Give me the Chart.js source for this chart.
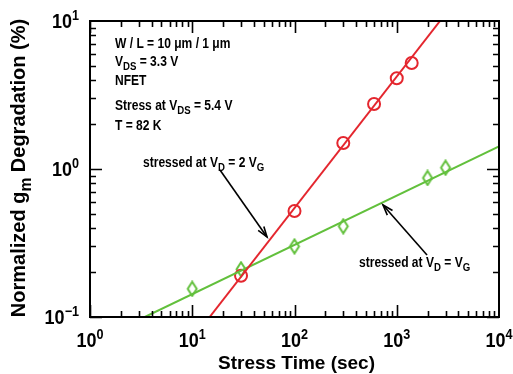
<!DOCTYPE html>
<html>
<head>
<meta charset="utf-8">
<script src="https://cdn.jsdelivr.net/npm/chart.js@4/dist/chart.umd.min.js"></script>
<style>
html,body{margin:0;padding:0;background:#fff;}
canvas{display:block;}
</style>
</head>
<body>
<canvas id="c" width="513" height="374"></canvas>
<script>
// ---- data ----
const redTimes   = [30, 100, 300, 600, 1000, 1400];
const redValues  = [0.19, 0.52, 1.5, 2.75, 4.1, 5.2];
const greenTimes  = [10, 30, 100, 300, 2000, 3000];
const greenValues = [0.155, 0.21, 0.30, 0.41, 0.87, 1.02];
// fitted lines (end points where they leave the frame)
const redFitTimes   = [14.8, 2650];
const redFitValues  = [0.1, 10];
const greenFitTimes  = [3.44, 10000];
const greenFitValues = [0.1, 1.42];
// axes
const xMajorTicks = [1, 10, 100, 1000, 10000];
const xTickExps   = ['0', '1', '2', '3', '4'];
const yMajorTicks = [0.1, 1, 10];
const yTickExps   = ['\u22121', '0', '1'];

const RED = '#e4262e';
const GREEN = '#62c03c';

const pts = (xs, ys) => xs.map((v, i) => ({x: v, y: ys[i]}));

// tall diamond marker
function diamond() {
  const c = document.createElement('canvas');
  c.width = 14; c.height = 17;
  const g = c.getContext('2d');
  g.strokeStyle = GREEN; g.lineWidth = 2;
  g.beginPath();
  g.moveTo(7, 1.5); g.lineTo(11.5, 8.5); g.lineTo(7, 15.5); g.lineTo(2.5, 8.5); g.closePath();
  g.stroke();
  return c;
}

const FONT = '"Liberation Sans", Arial, Helvetica, sans-serif';
function rich(ctx, runs, x, y, size, sx, draw, subRatio) {
  const sr = subRatio || 0.7;
  ctx.save();
  ctx.translate(x, y);
  ctx.scale(sx, 1);
  ctx.textBaseline = 'alphabetic';
  ctx.textAlign = 'left';
  let cx = 0;
  for (const [t, kind] of runs) {
    const fs = kind ? size * sr : size;
    ctx.font = `bold ${fs}px ${FONT}`;
    const dy = kind === 'sub' ? size * 0.3 : (kind === 'sup' ? -size * 0.42 : 0);
    if (draw !== false) ctx.fillText(t, cx, dy);
    cx += ctx.measureText(t).width;
  }
  ctx.restore();
  return cx * sx;
}

function arrow(ctx, x0, y0, x1, y1) {
  ctx.save();
  ctx.strokeStyle = '#000'; ctx.lineWidth = 1.6;
  ctx.beginPath(); ctx.moveTo(x0, y0); ctx.lineTo(x1, y1); ctx.stroke();
  const ang = Math.atan2(y1 - y0, x1 - x0);
  const L = 11, a = 0.32;
  ctx.beginPath();
  ctx.moveTo(x1 - L * Math.cos(ang - a), y1 - L * Math.sin(ang - a));
  ctx.lineTo(x1, y1);
  ctx.lineTo(x1 - L * Math.cos(ang + a), y1 - L * Math.sin(ang + a));
  ctx.stroke();
  ctx.restore();
}

const decor = {
  id: 'decor',
  beforeDraw(chart) {
    const ctx = chart.ctx;
    ctx.save(); ctx.fillStyle = '#fff'; ctx.fillRect(0, 0, chart.width, chart.height); ctx.restore();
  },
  afterDatasetsDraw(chart) {
    const {ctx, chartArea: a, scales: {x, y}} = chart;
    ctx.save();
    ctx.strokeStyle = '#000';
    ctx.lineWidth = 2;
    ctx.strokeRect(a.left, a.top, a.right - a.left, a.bottom - a.top);
    // inward ticks
    ctx.lineWidth = 1.6;
    ctx.beginPath();
    for (let d = 0; d < xMajorTicks.length - 1; d++) {
      for (let m = 1; m <= 9; m++) {
        const px = Math.round(x.getPixelForValue(xMajorTicks[d] * m)) + 0.5;
        const len = m === 1 ? 12 : 6;
        ctx.moveTo(px, a.bottom); ctx.lineTo(px, a.bottom - len);
        ctx.moveTo(px, a.top); ctx.lineTo(px, a.top + len);
      }
    }
    for (let d = 0; d < yMajorTicks.length - 1; d++) {
      for (let m = 1; m <= 9; m++) {
        const py = Math.round(y.getPixelForValue(yMajorTicks[d] * m)) + 0.5;
        const len = m === 1 ? 12 : 6;
        ctx.moveTo(a.left, py); ctx.lineTo(a.left + len, py);
        ctx.moveTo(a.right, py); ctx.lineTo(a.right - len, py);
      }
    }
    ctx.stroke();
    ctx.fillStyle = '#000';
    // x tick labels
    xMajorTicks.forEach((v, i) => {
      const runs = [['10', null], [xTickExps[i], 'sup']];
      const w = rich(ctx, runs, 0, 0, 20, 0.9, false);
      const px = x.getPixelForValue(v);
      rich(ctx, runs, px - w / 2, 347, 20, 0.9);
    });
    // y tick labels
    yMajorTicks.forEach((v, i) => {
      const runs = [['10', null], [yTickExps[i], 'sup']];
      const w = rich(ctx, runs, 0, 0, 20, 0.9, false);
      const py = y.getPixelForValue(v);
      rich(ctx, runs, 79 - w, py + 7, 20, 0.9);
    });
    // axis titles
    const xt = [['Stress Time (sec)', null]];
    const wx = rich(ctx, xt, 0, 0, 19, 1, false);
    rich(ctx, xt, (a.left + a.right) / 2 - wx / 2 + 2, 369, 19, 1);
    const yt = [['Normalized g', null], ['m', 'sub'], [' Degradation (%)', null]];
    ctx.save();
    ctx.translate(25, 168);
    ctx.rotate(-Math.PI / 2);
    const wy = rich(ctx, yt, 0, 0, 20, 1, false, 0.78);
    rich(ctx, yt, -wy / 2, 0, 20, 1, true, 0.78);
    ctx.restore();
    // annotations
    const S = 14, SX = 0.86, SR = 0.8;
    rich(ctx, [['W / L = 10 \u03bcm / 1 \u03bcm', null]], 115, 48, S, SX, true, SR);
    rich(ctx, [['V', null], ['DS', 'sub'], [' = 3.3 V', null]], 115, 66, S, SX, true, SR);
    rich(ctx, [['NFET', null]], 115, 85, S, SX, true, SR);
    rich(ctx, [['Stress at V', null], ['DS', 'sub'], [' = 5.4 V', null]], 115, 110, S, SX, true, SR);
    rich(ctx, [['T = 82 K', null]], 115, 130, S, SX, true, SR);
    rich(ctx, [['stressed at V', null], ['D', 'sub'], [' = 2 V', null], ['G', 'sub']], 143, 167, S, SX, true, SR);
    rich(ctx, [['stressed at V', null], ['D', 'sub'], [' = V', null], ['G', 'sub']], 359, 267, S, SX, true, SR);
    arrow(ctx, 220, 170, 267, 237);
    arrow(ctx, 427, 255, 383, 205);
    ctx.restore();
  }
};

new Chart(document.getElementById('c'), {
  type: 'scatter',
  data: {
    datasets: [
      {data: pts(redFitTimes, redFitValues), showLine: true, borderColor: RED, borderWidth: 2, pointRadius: 0},
      {data: pts(greenFitTimes, greenFitValues), showLine: true, borderColor: GREEN, borderWidth: 2, pointRadius: 0},
      {data: pts(redTimes, redValues), showLine: false, pointStyle: 'circle', pointRadius: 6, borderColor: RED, borderWidth: 2, backgroundColor: 'rgba(0,0,0,0)'},
      {data: pts(greenTimes, greenValues), showLine: false, pointStyle: diamond(), pointRadius: 7, borderColor: GREEN, backgroundColor: 'rgba(0,0,0,0)'}
    ]
  },
  options: {
    responsive: false,
    animation: false,
    devicePixelRatio: 1,
    layout: {padding: {left: 90, right: 14, top: 21, bottom: 57}},
    plugins: {legend: {display: false}, tooltip: {enabled: false}},
    scales: {
      x: {type: 'logarithmic', min: 1, max: 10000, display: false},
      y: {type: 'logarithmic', min: 0.1, max: 10, display: false}
    }
  },
  plugins: [decor]
});
</script>
</body>
</html>
